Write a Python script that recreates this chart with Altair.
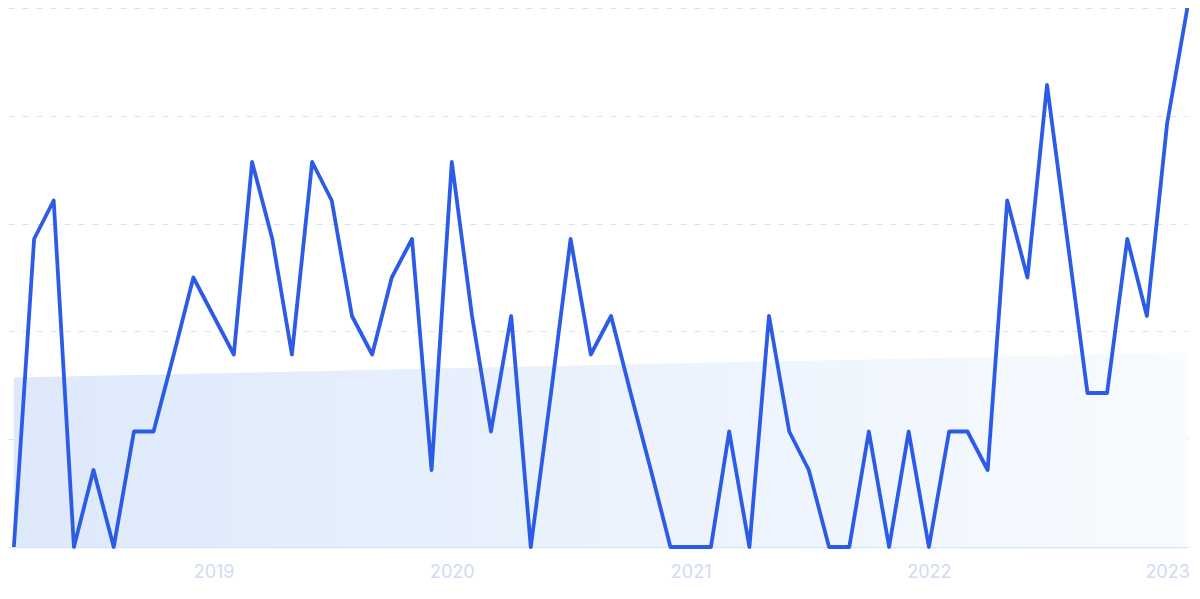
import altair as alt
import pandas as pd

# Monthly points, Mar 2018 .. Feb 2023
months = pd.date_range("2018-03-01", "2023-02-01", freq="MS").strftime("%Y-%m-%d").tolist()
counts = [0, 8, 9, 0, 2, 0, 3, 3, 5, 7,
          6, 5, 10, 8, 5, 10, 9, 6, 5, 7,
          8, 2, 10, 6, 3, 6, 0, 4, 8, 5,
          6, 4, 2, 0, 0, 0, 3, 0, 6, 3,
          2, 0, 0, 3, 0, 3, 0, 3, 3, 2,
          9, 7, 12, 8, 4, 4, 8, 6, 11, 14]

trend_dates = ["2018-03-01", "2023-02-01"]
trend_values = [4.4, 5.05]

grid_values = [0, 2.8, 5.6, 8.4, 11.2, 14]
year_ticks = [2019, 2020, 2021, 2022, 2023]

df = pd.DataFrame({"date": months, "value": counts})
tdf = pd.DataFrame({"date": trend_dates, "value": trend_values})

x_scale = alt.Scale(
    type="utc",
    domain=[alt.DateTime(year=2018, month=2, date=20, utc=True),
            alt.DateTime(year=2023, month=2, date=2, utc=True)],
)
y_scale = alt.Scale(domain=[0, 14], nice=False, zero=True)

x_axis = alt.Axis(
    values=[alt.DateTime(year=y, month=1, date=1, utc=True) for y in year_ticks],
    format="%Y",
    title=None,
    ticks=False,
    grid=False,
    domain=True,
    domainColor="#d8e4fb",
    domainWidth=1.5,
    labelColor="#d0dbf6",
    labelFont="Inter",
    labelFontSize=18,
    labelPadding=16,
    labelFlush=False,
    labelOverlap=False,
)
y_axis = alt.Axis(
    values=grid_values,
    title=None,
    labels=False,
    ticks=False,
    domain=False,
    grid=True,
    gridColor="#d6e1fa",
    gridDash=[6, 8],
    gridWidth=1.2,
)

area = alt.Chart(tdf).mark_area(
    fill=alt.Gradient(
        gradient="linear",
        x1=0, x2=1, y1=0, y2=0,
        stops=[alt.GradientStop(color="#dde9fb", offset=0),
               alt.GradientStop(color="#f8fbff", offset=1)],
    ),
    opacity=1,
).encode(
    x=alt.X("date:T", scale=x_scale, axis=x_axis),
    y=alt.Y("value:Q", scale=y_scale, axis=y_axis),
)

line = alt.Chart(df).mark_line(
    color="#2c5ce6",
    strokeWidth=3.8,
    strokeJoin="round",
).encode(
    x=alt.X("date:T", scale=x_scale, axis=x_axis),
    y=alt.Y("value:Q", scale=y_scale, axis=y_axis),
)

chart = alt.layer(area, line).properties(
    width=1180,
    height=539,
    autosize=alt.AutoSizeParams(type="none"),
    padding={"left": 0, "top": 0, "right": 4, "bottom": 40},
    background="white",
).configure_view(stroke=None)

chart.save("out.html", embed_options={"renderer": "svg", "actions": False})
